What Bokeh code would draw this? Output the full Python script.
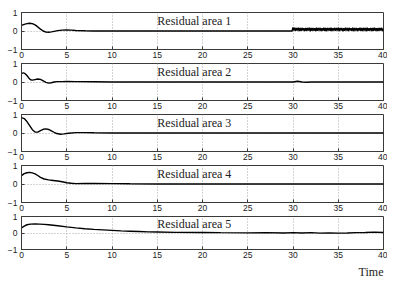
import numpy as np
from bokeh.plotting import figure
from bokeh.layouts import column
from bokeh.models import FixedTicker, Title, Range1d, Label
from bokeh.embed import file_html
from bokeh.resources import INLINE

titles = ["Residual area 1", "Residual area 2", "Residual area 3",
          "Residual area 4", "Residual area 5"]
x_ticks = [0, 5, 10, 15, 20, 25, 30, 35, 40]
y_ticks = [-1, 0, 1]
y_tick_labels = {-1: "\u22121", 0: "0", 1: "1"}
x_label = "Time"

t1 = [0, 0.3, 0.6, 0.9, 1.2, 1.5, 1.8, 2.1, 2.4, 2.7, 3.0, 3.3, 3.6, 4.0, 4.5,
      5.0, 5.5, 6.0, 7.0, 8.0, 10, 15, 20, 25, 29.9]
r1 = [0.3, 0.36, 0.4, 0.42, 0.4, 0.33, 0.22, 0.1, 0.0, -0.06, -0.07, -0.05,
      -0.02, 0.02, 0.05, 0.06, 0.05, 0.03, 0.01, 0.0, 0.0, 0.0, 0.0, 0.0, 0.0]
# chattering part of residual 1 (t = 30 .. 40, step 0.1)
r1_chatter = [0.19, 0.03, 0.18, 0.01, 0.17, 0.02, 0.18, 0.00, 0.16, 0.01,
              0.17, 0.03, 0.15, 0.00, 0.17, 0.01, 0.16, 0.02, 0.18, -0.01,
              0.16, 0.01, 0.17, 0.02, 0.15, 0.00, 0.18, 0.01, 0.16, 0.03,
              0.17, 0.00, 0.15, 0.02, 0.18, 0.01, 0.16, -0.01, 0.17, 0.02,
              0.16, 0.01, 0.18, 0.00, 0.15, 0.03, 0.17, 0.01, 0.16, 0.02,
              0.18, 0.00, 0.16, 0.02, 0.17, -0.01, 0.15, 0.01, 0.18, 0.02,
              0.16, 0.00, 0.17, 0.03, 0.15, 0.01, 0.18, -0.01, 0.16, 0.02,
              0.17, 0.00, 0.15, 0.02, 0.18, 0.01, 0.16, 0.00, 0.17, 0.03,
              0.16, -0.01, 0.18, 0.01, 0.15, 0.02, 0.17, 0.00, 0.16, 0.01,
              0.18, 0.02, 0.15, 0.00, 0.17, 0.01, 0.16, 0.03, 0.17, 0.00,
              0.12]

t2 = [0, 0.2, 0.4, 0.6, 0.8, 1.0, 1.2, 1.5, 1.8, 2.1, 2.4, 2.7, 3.0, 3.3, 3.6,
      4.0, 4.5, 5, 6, 8, 10, 20, 29, 30, 30.5, 31, 31.5, 32, 35, 40]
r2 = [0.45, 0.5, 0.45, 0.35, 0.22, 0.12, 0.1, 0.13, 0.16, 0.14, 0.06, -0.02,
      -0.06, -0.04, 0.0, 0.02, 0.02, 0.03, 0.02, 0.01, 0.0, 0.0, 0.0, 0.0,
      0.04, 0.0, -0.01, 0.0, 0.0, 0.0]

t3 = [0, 0.3, 0.6, 0.9, 1.2, 1.5, 1.8, 2.1, 2.4, 2.7, 3.0, 3.3, 3.6, 3.9, 4.3,
      4.7, 5.2, 6, 7, 8, 10, 20, 40]
r3 = [0.83, 0.78, 0.62, 0.4, 0.18, 0.05, 0.05, 0.13, 0.2, 0.22, 0.19, 0.12,
      0.04, -0.03, -0.07, -0.05, -0.01, 0.02, 0.02, 0.01, 0.0, 0.0, 0.0]

t4 = [0, 0.3, 0.6, 0.9, 1.2, 1.5, 1.8, 2.1, 2.5, 3.0, 3.5, 4.0, 4.5, 5.0, 5.5,
      6, 7, 8, 10, 12, 15, 20, 40]
r4 = [0.45, 0.56, 0.61, 0.63, 0.6, 0.55, 0.46, 0.36, 0.27, 0.22, 0.19, 0.16,
      0.12, 0.07, 0.04, 0.02, 0.03, 0.03, 0.02, 0.01, 0.0, 0.0, 0.0]

t5 = [0, 0.3, 0.6, 1.0, 1.5, 2.0, 2.5, 3, 4, 5, 6, 7, 8, 9, 10, 11, 12, 13, 14,
      15, 17, 20, 22, 25, 27, 29, 30, 31, 32, 33, 34, 35, 36, 37, 38, 39, 40]
r5 = [0.3, 0.42, 0.5, 0.54, 0.55, 0.54, 0.52, 0.5, 0.44, 0.37, 0.31, 0.26,
      0.22, 0.19, 0.16, 0.13, 0.11, 0.09, 0.07, 0.06, 0.04, 0.03, 0.02, 0.01,
      0.02, 0.0, 0.02, 0.0, 0.02, -0.01, 0.01, -0.01, 0.0, 0.02, 0.03, 0.05,
      0.03]

t1_chatter = [round(30 + 0.1 * i, 1) for i in range(len(r1_chatter))]
series = [(t1 + t1_chatter, r1 + r1_chatter), (t2, r2), (t3, r3), (t4, r4), (t5, r5)]

FRAME_C = "#3a3a3a"
TICK_FONT = "Liberation Sans"
SERIF = "Liberation Serif"


def make(i, t, r):
    last = i == 4
    top = 12 if i == 0 else 3
    bottom = 27 if last else 11
    h = top + 37 + bottom
    p = figure(width=387, height=h, output_backend="svg", toolbar_location=None,
               x_range=Range1d(0, 40), y_range=Range1d(-1, 1),
               min_border_left=21, min_border_right=4,
               min_border_top=top, min_border_bottom=bottom,
               background_fill_color="white", border_fill_color="white")
    p.outline_line_color = FRAME_C
    p.outline_line_width = 1
    for ax in (p.xaxis[0], p.yaxis[0]):
        ax.axis_line_color = FRAME_C
        ax.major_tick_line_color = FRAME_C
        ax.minor_tick_line_color = None
        ax.major_tick_in = 3
        ax.major_tick_out = 0
        ax.major_label_text_font = TICK_FONT
        ax.major_label_text_font_size = "8.5px"
        ax.major_label_text_color = "#222222"
    p.xaxis.ticker = FixedTicker(ticks=x_ticks)
    p.xaxis.major_label_standoff = 2
    p.yaxis.ticker = FixedTicker(ticks=y_ticks)
    p.yaxis.major_label_overrides = y_tick_labels
    p.yaxis.major_label_standoff = 4
    p.xgrid.ticker = FixedTicker(ticks=x_ticks[1:-1])
    p.ygrid.ticker = FixedTicker(ticks=[0])
    for g in (p.xgrid[0], p.ygrid[0]):
        g.grid_line_color = "#a8a8a8"
        g.grid_line_dash = "1 2"
        g.grid_line_width = 1
    p.line(t, r, line_color="black", line_width=1.4)
    p.add_layout(Label(x=19.1, y=0.55, text=titles[i], text_font=SERIF,
                       text_font_size="12px", text_align="center",
                       text_baseline="middle", text_color="#222222"))
    if last:
        p.add_layout(Title(text=x_label, align="right", text_font=SERIF,
                           text_font_size="12px", text_font_style="normal",
                           text_color="#222222", standoff=4), "below")
    return p


figs = [make(i, t, r) for i, (t, r) in enumerate(series)]
layout = column(*figs, spacing=0)
open("out.html", "w").write(file_html(layout, INLINE))
